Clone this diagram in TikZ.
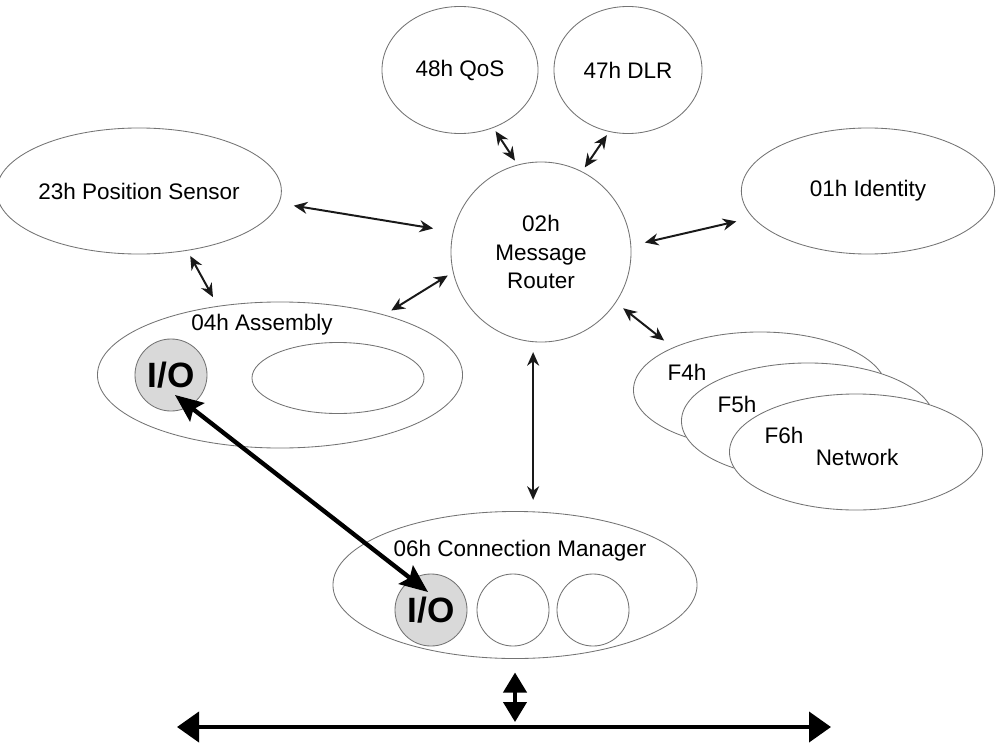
\documentclass[tikz,border=0pt]{standalone}
\usepackage{fontspec}
\setmainfont{Liberation Sans}
\usetikzlibrary{shapes.geometric,arrows.meta}

\begin{document}
\begin{tikzpicture}[
      x=0.025cm, y=-0.025cm,
      every node/.style={font=\fontsize{16}{20}\selectfont, inner sep=0pt},
      obj/.style={ellipse, draw=black!55, line width=0.6pt, fill=white, align=center},
      io/.style={circle, draw=black!55, line width=0.6pt, fill=black!15, minimum size=1.8cm,
        font=\fontsize{25}{25}\selectfont\bfseries},
      slot/.style={circle, draw=black!55, line width=0.6pt, fill=white, minimum size=1.8cm},
      link/.style={{Stealth[length=0.34cm,width=0.3cm]}-{Stealth[length=0.34cm,width=0.3cm]},
        line width=1.4pt, black!90},
      ioarrow/.style={{Stealth[length=0.7cm,width=0.58cm,inset=0.12cm]}-{Stealth[length=0.7cm,width=0.58cm,inset=0.12cm]},
        line width=3.1pt},
      bus/.style={{Triangle[length=0.55cm,width=0.75cm]}-{Triangle[length=0.55cm,width=0.75cm]},
        line width=2.8pt},
      stub/.style={{Triangle[length=0.5cm,width=0.58cm]}-{Triangle[length=0.5cm,width=0.58cm]},
        line width=2.5pt},
    ]
    \useasboundingbox (0,0) rectangle (998,742);

    \node[obj, minimum width=3.9cm, minimum height=3.175cm] (qos) at (460,70) {48h QoS};
    \node[obj, minimum width=3.7cm, minimum height=3.175cm] (dlr) at (628,70) {47h DLR};
    \node[obj, minimum width=6.35cm, minimum height=3.15cm] (pos) at (139,191) {23h Position Sensor};
    \node[obj, minimum width=6.33cm, minimum height=3.15cm] (ident) at (868,191) {01h Identity};
    \node[obj, circle, minimum size=4.5cm] (router) at (541,252) {02h\\Message\\Router};

    \node[obj, minimum width=9.125cm, minimum height=3.65cm] (asm) at (280,375) {};
    \node[obj, minimum width=4.3cm, minimum height=1.775cm] (asmslot) at (338,378) {};
    \node[io] (io1) at (171,375) {I/O};
    \node[anchor=base] (asmtxt) at (262,330) {04h Assembly};

    \node[obj, minimum width=9.1cm, minimum height=3.675cm] (cm) at (515,585) {};
    \node[io] (io2) at (431,610) {I/O};
    \node[slot] (cm2) at (513,610) {};
    \node[slot] (cm3) at (593,610) {};
    \node[anchor=base] (cmtxt) at (520,556) {06h Connection Manager};

    \node[obj, minimum width=6.325cm, minimum height=2.9cm] (f4) at (760,390) {};
    \node[anchor=base] (f4txt) at (687,380) {F4h};
    \node[obj, minimum width=6.325cm, minimum height=2.9cm] (f5) at (808,421) {};
    \node[anchor=base] (f5txt) at (737,412) {F5h};
    \node[obj, minimum width=6.325cm, minimum height=2.9cm] (f6) at (856,452) {};
    \node[anchor=base] (f6txt) at (784,443) {F6h};
    \node[anchor=base] (nettxt) at (857,465) {Network};

    \draw[link, shorten <=0.1cm, shorten >=0.12cm] (qos.-60) -- (router.105);
    \draw[link, shorten <=0.1cm, shorten >=0.12cm] (dlr.-107) -- (router.63);
    \draw[link, shorten <=0.37cm, shorten >=0.5cm] (pos.-5) -- (router.167);
    \draw[link, shorten <=0.15cm, shorten >=0.25cm] (pos.-51) -- (asm.132);
    \draw[link, shorten <=0.2cm, shorten >=0.15cm] (asm.30) -- (router.193);
    \draw[link, shorten <=0.35cm, shorten >=0.42cm] (router.4) -- (ident.193);
    \draw[link, shorten <=0.23cm, shorten >=0.28cm] (router.-34) -- (f4.154);
    \draw[link, shorten <=0.25cm, shorten >=0.28cm] (router.265) -- (router.265 |- cm.north);

    \draw[ioarrow] ([shift={(4,20)}]io1.center) -- ([shift={(-3,-18)}]io2.center);

    \coordinate (busL) at (177,727);
    \coordinate (busR) at (831,727);
    \draw[bus] (busL) -- (busR);
    \draw[stub, shorten <=0.34cm, shorten >=0.125cm] (cm.south) -- (cm.south |- busL);
\end{tikzpicture}
\end{document}
